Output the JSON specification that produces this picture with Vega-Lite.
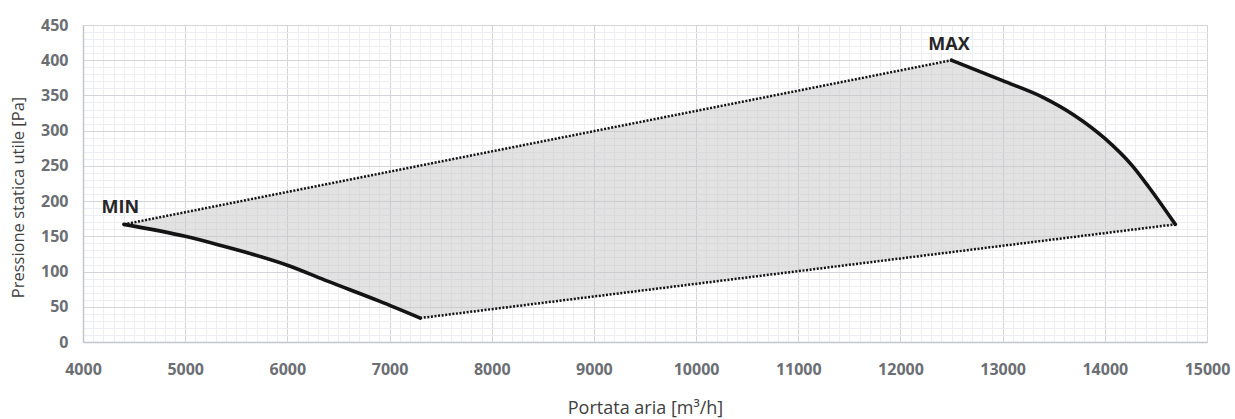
{
  "$schema": "https://vega.github.io/schema/vega-lite/v6.json",
  "width": 1124,
  "height": 317,
  "autosize": {"type": "none"},
  "padding": {"left": 83, "top": 25, "right": 28, "bottom": 77},
  "background": "white",
  "config": {
    "view": {"stroke": null},
    "font": "Open Sans"
  },
  "datasets": {
    "poly": [
      {"i": 1, "x": 4400, "y": 167},
      {"i": 2, "x": 12500, "y": 400},
      {"i": 3, "x": 13000, "y": 370},
      {"i": 4, "x": 13400, "y": 347},
      {"i": 5, "x": 13700, "y": 323},
      {"i": 6, "x": 14000, "y": 289},
      {"i": 7, "x": 14270, "y": 249},
      {"i": 8, "x": 14430, "y": 220},
      {"i": 9, "x": 14690, "y": 167},
      {"i": 10, "x": 7300, "y": 34},
      {"i": 11, "x": 6900, "y": 58},
      {"i": 12, "x": 6400, "y": 85},
      {"i": 13, "x": 6000, "y": 109},
      {"i": 14, "x": 5650, "y": 122},
      {"i": 15, "x": 5350, "y": 136},
      {"i": 16, "x": 5000, "y": 150},
      {"i": 17, "x": 4400, "y": 167}
    ],
    "curves": [
      {"seg": "min", "x": 4400, "y": 167},
      {"seg": "min", "x": 5000, "y": 150},
      {"seg": "min", "x": 5350, "y": 137},
      {"seg": "min", "x": 5650, "y": 125},
      {"seg": "min", "x": 6000, "y": 109},
      {"seg": "min", "x": 6400, "y": 86},
      {"seg": "min", "x": 6900, "y": 58},
      {"seg": "min", "x": 7300, "y": 34},
      {"seg": "max", "x": 12500, "y": 400},
      {"seg": "max", "x": 13000, "y": 371},
      {"seg": "max", "x": 13400, "y": 347},
      {"seg": "max", "x": 13700, "y": 322},
      {"seg": "max", "x": 14000, "y": 289},
      {"seg": "max", "x": 14270, "y": 250},
      {"seg": "max", "x": 14430, "y": 220},
      {"seg": "max", "x": 14690, "y": 167}
    ],
    "dotted": [
      {"seg": "upper", "x": 4400, "y": 167},
      {"seg": "upper", "x": 12500, "y": 400},
      {"seg": "lower", "x": 7300, "y": 34},
      {"seg": "lower", "x": 14690, "y": 167}
    ],
    "labels": [
      {"x": 4365, "y": 190, "label": "MIN"},
      {"x": 12475, "y": 421, "label": "MAX"}
    ]
  },
  "layer": [
    {
      "data": {"name": "poly"},
      "mark": {"type": "line", "fill": "#c6c6c6", "fillOpacity": 0.5, "strokeOpacity": 0, "filled": true},
      "encoding": {
        "x": {
          "field": "x", "type": "quantitative",
          "scale": {"domain": [4000, 15000], "nice": false, "zero": false},
          "axis": {
            "orient": "bottom",
            "values": [4100,4200,4300,4400,4500,4600,4700,4800,4900,5100,5200,5300,5400,5500,5600,5700,5800,5900,6100,6200,6300,6400,6500,6600,6700,6800,6900,7100,7200,7300,7400,7500,7600,7700,7800,7900,8100,8200,8300,8400,8500,8600,8700,8800,8900,9100,9200,9300,9400,9500,9600,9700,9800,9900,10100,10200,10300,10400,10500,10600,10700,10800,10900,11100,11200,11300,11400,11500,11600,11700,11800,11900,12100,12200,12300,12400,12500,12600,12700,12800,12900,13100,13200,13300,13400,13500,13600,13700,13800,13900,14100,14200,14300,14400,14500,14600,14700,14800,14900],
            "grid": true, "gridColor": "#eceef1", "gridWidth": 1,
            "labels": false, "ticks": false, "domain": false, "title": null
          }
        },
        "y": {
          "field": "y", "type": "quantitative",
          "scale": {"domain": [0, 450], "nice": false},
          "axis": {
            "orient": "left",
            "values": [10,20,30,40,60,70,80,90,110,120,130,140,160,170,180,190,210,220,230,240,260,270,280,290,310,320,330,340,360,370,380,390,410,420,430,440],
            "grid": true, "gridColor": "#eceef1", "gridWidth": 1,
            "labels": false, "ticks": false, "domain": false, "title": null
          }
        },
        "order": {"field": "i", "type": "quantitative"}
      }
    },
    {
      "data": {"name": "dotted"},
      "mark": {"type": "line", "color": "#111111", "strokeWidth": 2.5, "strokeDash": [2, 1.6]},
      "encoding": {
        "x": {
          "field": "x", "type": "quantitative",
          "axis": {
            "orient": "bottom",
            "values": [4000,5000,6000,7000,8000,9000,10000,11000,12000,13000,14000,15000],
            "format": "d", "labelFlush": false,
            "grid": true, "gridColor": "#d3d5da", "gridWidth": 1,
            "ticks": false, "domain": true, "domainColor": "#c3c5ca", "domainWidth": 1.5,
            "labelFont": "Open Sans", "labelFontWeight": "bold", "labelFontSize": 16, "labelColor": "#6b6e73",
            "labelPadding": 19,
            "title": "Portata aria [m³/h]", "titleFont": "Open Sans", "titleFontWeight": "normal",
            "titleFontSize": 18, "titleColor": "#404040", "titlePadding": 22
          }
        },
        "y": {
          "field": "y", "type": "quantitative",
          "axis": {
            "orient": "left",
            "values": [0,50,100,150,200,250,300,350,400,450],
            "labelFlush": false,
            "grid": true, "gridColor": "#d3d5da", "gridWidth": 1,
            "ticks": false, "domain": true, "domainColor": "#c3c5ca", "domainWidth": 1.5,
            "labelFont": "Open Sans", "labelFontWeight": "bold", "labelFontSize": 16, "labelColor": "#6b6e73",
            "labelPadding": 15,
            "title": "Pressione statica utile [Pa]", "titleFont": "Open Sans", "titleFontWeight": "normal",
            "titleFontSize": 16.5, "titleColor": "#404040", "titlePadding": 14, "titleY": 172
          }
        },
        "detail": {"field": "seg", "type": "nominal"}
      }
    },
    {
      "data": {"name": "curves"},
      "mark": {"type": "line", "color": "#141414", "strokeWidth": 3.6, "interpolate": "monotone", "strokeCap": "round"},
      "encoding": {
        "x": {"field": "x", "type": "quantitative", "axis": null},
        "y": {"field": "y", "type": "quantitative", "axis": null},
        "detail": {"field": "seg", "type": "nominal"}
      }
    },
    {
      "data": {"name": "labels"},
      "mark": {"type": "text", "font": "Open Sans", "fontWeight": "bold", "fontSize": 18, "color": "#262626", "baseline": "middle", "align": "center"},
      "encoding": {
        "x": {"field": "x", "type": "quantitative", "axis": null},
        "y": {"field": "y", "type": "quantitative", "axis": null},
        "text": {"field": "label"}
      }
    }
  ],
  "resolve": {"axis": {"x": "independent", "y": "independent"}}
}
